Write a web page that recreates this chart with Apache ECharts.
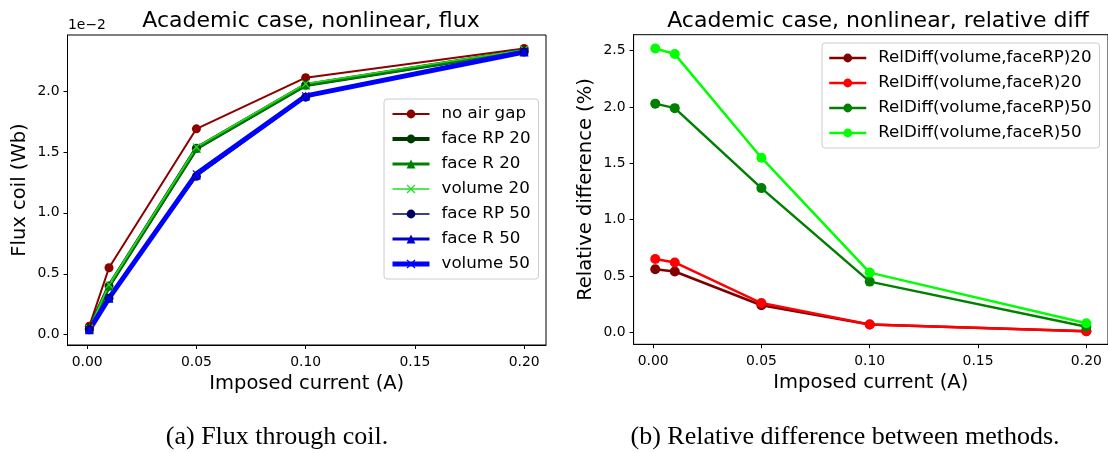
<!DOCTYPE html>
<html lang="en">
<head>
    <meta charset="utf-8">
    <title>Academic case, nonlinear</title>
    <script src="https://cdn.jsdelivr.net/npm/echarts@6/dist/echarts.min.js"></script>
    <style>
        html, body { margin: 0; padding: 0; background: #fff; }
        #chart { width: 1108px; height: 453px; }
    </style>
</head>
<body>
<div id="chart"></div>
<script>
    // imposed current (A)
    var current = [0.001, 0.01, 0.05, 0.1, 0.2];
    var xTicks = [0, 0.05, 0.1, 0.15, 0.2];

    // flux coil, in units of 1e-2 Wb
    var noAirGap = [0.07, 0.55, 1.69, 2.11, 2.35];
    var faceRP20 = [0.05, 0.40, 1.53, 2.05, 2.33];
    var faceR20 = [0.05, 0.40, 1.53, 2.05, 2.33];
    var volume20 = [0.05, 0.41, 1.54, 2.06, 2.34];
    var faceRP50 = [0.04, 0.30, 1.30, 1.95, 2.32];
    var faceR50 = [0.04, 0.30, 1.31, 1.96, 2.32];
    var volume50 = [0.04, 0.30, 1.32, 1.96, 2.32];
    var fluxTicks = [0, 0.5, 1, 1.5, 2];

    // relative difference (%)
    var relRP20 = [0.56, 0.54, 0.24, 0.07, 0.01];
    var relR20 = [0.65, 0.62, 0.26, 0.07, 0.01];
    var relRP50 = [2.03, 1.99, 1.28, 0.45, 0.05];
    var relR50 = [2.52, 2.47, 1.55, 0.53, 0.08];
    var relTicks = [0, 0.5, 1, 1.5, 2, 2.5];

    var FONT = 'DejaVu Sans';
    var xMark = 'path://M0,1L1,0L5,4L9,0L10,1L6,5L10,9L9,10L5,6L1,10L0,9L4,5Z';

    function pairs(ys) {
        return current.map(function (x, i) { return [x, ys[i]]; });
    }

    function line(name, ys, color, width, symbol, size, idx) {
        return {
            name: name,
            type: 'line',
            xAxisIndex: idx,
            yAxisIndex: idx,
            data: pairs(ys),
            symbol: symbol,
            symbolSize: size,
            showAllSymbol: true,
            lineStyle: {color: color, width: width},
            itemStyle: {color: color},
            emphasis: {disabled: true}
        };
    }

    function xAxis(idx) {
        return {
            type: 'value',
            gridIndex: idx,
            min: -0.009,
            max: 0.21,
            name: 'Imposed current (A)',
            nameLocation: 'middle',
            nameGap: 27,
            nameTextStyle: {fontFamily: FONT, fontSize: 19.5, color: '#000'},
            axisLine: {show: true, onZero: false, lineStyle: {color: '#000', width: 1}},
            axisTick: {show: true, length: 4, customValues: xTicks, lineStyle: {color: '#000'}},
            axisLabel: {
                customValues: xTicks, margin: 10, color: '#000', fontFamily: FONT, fontSize: 13.9,
                formatter: function (v) { return v.toFixed(2); }
            },
            splitLine: {show: false}
        };
    }

    function yAxis(idx, name, min, max, ticks) {
        return {
            type: 'value',
            gridIndex: idx,
            min: min,
            max: max,
            name: name,
            nameLocation: 'middle',
            nameGap: 38,
            nameTextStyle: {fontFamily: FONT, fontSize: 19.5, color: '#000'},
            axisLine: {show: true, onZero: false, lineStyle: {color: '#000', width: 1}},
            axisTick: {show: true, length: 4, customValues: ticks, lineStyle: {color: '#000'}},
            axisLabel: {
                customValues: ticks, margin: 8, color: '#000', fontFamily: FONT, fontSize: 13.9,
                formatter: function (v) { return v.toFixed(1); }
            },
            splitLine: {show: false}
        };
    }

    // legend entries keep the line width of their series
    function legend(list, left, top) {
        return {
            data: list.map(function (s) {
                return {name: s.name, lineStyle: {width: s.lineStyle.width}};
            }),
            orient: 'vertical',
            left: left,
            top: top,
            itemWidth: 37,
            itemHeight: 11,
            itemGap: 7,
            padding: [6, 8, 6, 6],
            backgroundColor: 'rgba(255,255,255,0.8)',
            borderColor: '#cccccc',
            borderWidth: 1,
            borderRadius: 3,
            selectedMode: false,
            textStyle: {fontFamily: FONT, fontSize: 16.7, color: '#000', lineHeight: 18, padding: [0, 0, 0, 7]}
        };
    }

    var fluxSeries = [
        line('no air gap', noAirGap, '#8b0000', 2, 'circle', 9, 0),
        line('face RP 20', faceRP20, '#003a00', 4, 'circle', 9, 0),
        line('face R 20', faceR20, '#008000', 3, 'triangle', 9, 0),
        line('volume 20', volume20, '#22dd22', 1.5, xMark, 8, 0),
        line('face RP 50', faceRP50, '#000060', 1.5, 'circle', 9, 0),
        line('face R 50', faceR50, '#0000cd', 3, 'triangle', 9, 0),
        line('volume 50', volume50, '#0000ff', 5, xMark, 8, 0)
    ];
    var relSeries = [
        line('RelDiff(volume,faceRP)20', relRP20, '#800000', 2.5, 'circle', 10, 1),
        line('RelDiff(volume,faceR)20', relR20, '#ff0000', 2.5, 'circle', 10, 1),
        line('RelDiff(volume,faceRP)50', relRP50, '#008000', 2.5, 'circle', 10, 1),
        line('RelDiff(volume,faceR)50', relR50, '#00ff00', 2.5, 'circle', 10, 1)
    ];

    var chart = echarts.init(document.getElementById('chart'), null, {renderer: 'canvas'});
    chart.setOption({
        animation: false,
        backgroundColor: '#fff',
        textStyle: {fontFamily: FONT},
        title: [
            {
                text: 'Academic case, nonlinear, flux', left: 306, top: 5, textAlign: 'center',
                textStyle: {fontFamily: FONT, fontSize: 22, fontWeight: 'normal', color: '#000'}
            },
            {
                text: 'Academic case, nonlinear, relative diff', left: 873, top: 5, textAlign: 'center',
                textStyle: {fontFamily: FONT, fontSize: 22, fontWeight: 'normal', color: '#000'}
            }
        ],
        grid: [
            {left: 67.5, top: 35, width: 478.5, height: 310, show: true, borderColor: '#000', borderWidth: 1},
            {left: 633.6, top: 34.7, width: 479, height: 309.6, show: true, borderColor: '#000', borderWidth: 1}
        ],
        xAxis: [xAxis(0), xAxis(1)],
        yAxis: [
            yAxis(0, 'Flux coil (Wb)', -0.0845, 2.46, fluxTicks),
            yAxis(1, 'Relative difference (%)', -0.1065, 2.642, relTicks)
        ],
        legend: [legend(fluxSeries, 384, 99), legend(relSeries, 822, 43)],
        series: fluxSeries.concat(relSeries),
        graphic: [
            {type: 'text', left: 68, top: 18, style: {text: '1e\u22122', font: '13.9px "DejaVu Sans"', fill: '#000'}},
            {
                type: 'text', x: 277, y: 437,
                style: {text: '(a) Flux through coil.', font: '26px "Liberation Serif"', fill: '#000', align: 'center', verticalAlign: 'middle'}
            },
            {
                type: 'text', x: 845, y: 437,
                style: {text: '(b) Relative difference between methods.', font: '26px "Liberation Serif"', fill: '#000', align: 'center', verticalAlign: 'middle'}
            }
        ]
    });
</script>
</body>
</html>
